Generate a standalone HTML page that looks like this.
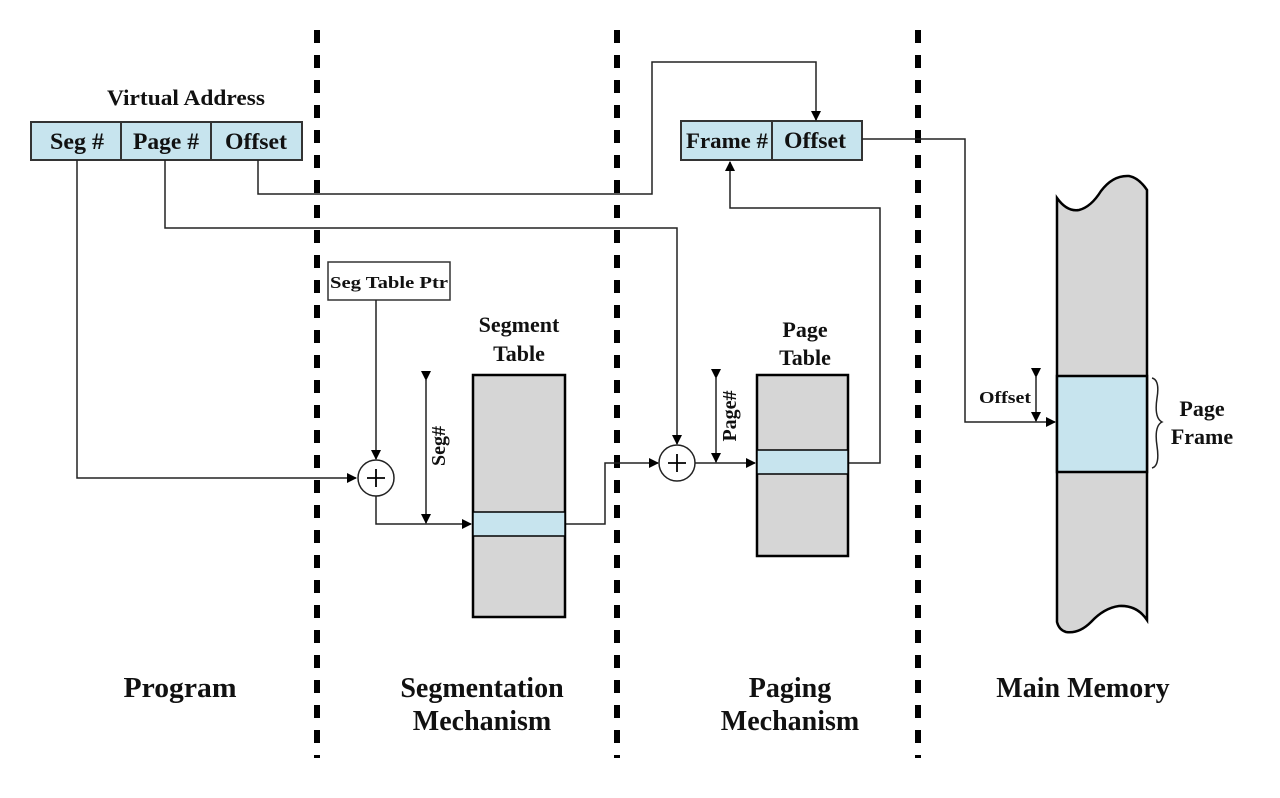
<!DOCTYPE html>
<html><head><meta charset="utf-8"><style>
html,body{margin:0;padding:0;background:#fff;}
svg{display:block;}
text{font-family:"Liberation Serif",serif;font-weight:bold;fill:#111;}
</style></head><body>
<svg width="1280" height="798" viewBox="0 0 1280 798" xmlns="http://www.w3.org/2000/svg">
<defs>
<marker id="a" markerWidth="10" markerHeight="10" refX="9" refY="5" orient="auto" markerUnits="userSpaceOnUse">
<path d="M0,0 L10,5 L0,10 z" fill="#000"/></marker>
</defs>
<g stroke="#000" stroke-width="6" stroke-dasharray="13,12">
<line x1="317" y1="30" x2="317" y2="758"/>
<line x1="617" y1="30" x2="617" y2="758"/>
<line x1="918" y1="30" x2="918" y2="758"/>
</g>
<!-- virtual address -->
<text x="186" y="105" font-size="22" text-anchor="middle" textLength="158" lengthAdjust="spacingAndGlyphs">Virtual Address</text>
<rect x="31" y="122" width="271" height="38" fill="#c7e4ee" stroke="#333" stroke-width="2"/>
<line x1="121" y1="122" x2="121" y2="160" stroke="#333" stroke-width="2"/>
<line x1="211" y1="122" x2="211" y2="160" stroke="#333" stroke-width="2"/>
<text x="77" y="149" font-size="23" text-anchor="middle" textLength="54" lengthAdjust="spacingAndGlyphs">Seg #</text>
<text x="166" y="149" font-size="23" text-anchor="middle" textLength="66" lengthAdjust="spacingAndGlyphs">Page #</text>
<text x="256" y="149" font-size="23" text-anchor="middle" textLength="62" lengthAdjust="spacingAndGlyphs">Offset</text>
<!-- frame box -->
<rect x="681" y="121" width="181" height="39" fill="#c7e4ee" stroke="#333" stroke-width="2"/>
<line x1="772" y1="121" x2="772" y2="160" stroke="#333" stroke-width="2"/>
<text x="727" y="148" font-size="22" text-anchor="middle" textLength="82" lengthAdjust="spacingAndGlyphs">Frame #</text>
<text x="815" y="148" font-size="23" text-anchor="middle" textLength="62" lengthAdjust="spacingAndGlyphs">Offset</text>
<!-- seg table ptr -->
<rect x="328" y="262" width="122" height="38" fill="#fff" stroke="#333" stroke-width="1.5"/>
<text x="389" y="288" font-size="17" text-anchor="middle" textLength="118" lengthAdjust="spacingAndGlyphs">Seg Table Ptr</text>
<g fill="none" stroke="#222" stroke-width="1.5">
<polyline points="77,160 77,478 356,478" marker-end="url(#a)"/>
<polyline points="165,160 165,228 677,228 677,444" marker-end="url(#a)"/>
<polyline points="258,160 258,194 652,194 652,62 816,62 816,120" marker-end="url(#a)"/>
<polyline points="848,463 880,463 880,208 730,208 730,162" marker-end="url(#a)"/>
<polyline points="862,139 965,139 965,422 1055,422" marker-end="url(#a)"/>
<polyline points="376,300 376,459" marker-end="url(#a)"/>
<polyline points="376,496 376,524 471,524" marker-end="url(#a)"/>
<polyline points="565,524 605,524 605,463 658,463" marker-end="url(#a)"/>
<line x1="695" y1="463" x2="755" y2="463" marker-end="url(#a)"/>
<circle cx="376" cy="478" r="18" fill="#fff"/>
<circle cx="677" cy="463" r="18" fill="#fff"/>
<line x1="426" y1="380" x2="426" y2="523" marker-end="url(#a)" marker-start="url(#a)"/>
<line x1="716" y1="378" x2="716" y2="462" marker-end="url(#a)" marker-start="url(#a)"/>
<line x1="1036" y1="377" x2="1036" y2="421" marker-end="url(#a)" marker-start="url(#a)"/>
<path d="M1152,378 q8,2 5,20 q-3,20 5,24 q-8,4 -5,24 q3,20 -5,22"/>
</g>
<g stroke="#000" stroke-width="1.8">
<line x1="367" y1="478" x2="385" y2="478"/><line x1="376" y1="469" x2="376" y2="487"/>
<line x1="668" y1="463" x2="686" y2="463"/><line x1="677" y1="454" x2="677" y2="472"/>
</g>
<text transform="translate(445,446) rotate(-90)" font-size="20" text-anchor="middle">Seg#</text>
<text transform="translate(736,416) rotate(-90)" font-size="20" text-anchor="middle">Page#</text>
<!-- segment table -->
<text x="519" y="332" font-size="22" text-anchor="middle">Segment</text>
<text x="519" y="361" font-size="22" text-anchor="middle">Table</text>
<rect x="473" y="375" width="92" height="242" fill="#d6d6d6" stroke="#000" stroke-width="2.5"/>
<rect x="473" y="512" width="92" height="24" fill="#c7e4ee" stroke="#000" stroke-width="1.5"/>
<!-- page table -->
<text x="805" y="337" font-size="22" text-anchor="middle">Page</text>
<text x="805" y="365" font-size="22" text-anchor="middle">Table</text>
<rect x="757" y="375" width="91" height="181" fill="#d6d6d6" stroke="#000" stroke-width="2.5"/>
<rect x="757" y="450" width="91" height="24" fill="#c7e4ee" stroke="#000" stroke-width="1.5"/>
<!-- main memory -->
<path d="M1057,198 q10,14 22,12 q12,-3 22,-19 q12,-16 28,-15 q10,2 18,14 L1147,620 q-10,-15 -28,-14 q-15,2 -28,16 q-12,12 -25,10 q-7,-2 -9,-10 Z" fill="#d6d6d6" stroke="#000" stroke-width="2.5"/>
<rect x="1057" y="376" width="90" height="96" fill="#c7e4ee" stroke="#000" stroke-width="2.5"/>
<text x="1005" y="403" font-size="17" text-anchor="middle" textLength="52" lengthAdjust="spacingAndGlyphs">Offset</text>
<text x="1202" y="416" font-size="22" text-anchor="middle">Page</text>
<text x="1202" y="444" font-size="22" text-anchor="middle">Frame</text>
<!-- bottom labels -->
<text x="180" y="697" font-size="28" text-anchor="middle" textLength="113" lengthAdjust="spacingAndGlyphs">Program</text>
<text x="482" y="697" font-size="28" text-anchor="middle">Segmentation</text>
<text x="482" y="730" font-size="28" text-anchor="middle">Mechanism</text>
<text x="790" y="697" font-size="28" text-anchor="middle">Paging</text>
<text x="790" y="730" font-size="28" text-anchor="middle">Mechanism</text>
<text x="1083" y="697" font-size="28" text-anchor="middle">Main Memory</text>
</svg>
</body></html>
